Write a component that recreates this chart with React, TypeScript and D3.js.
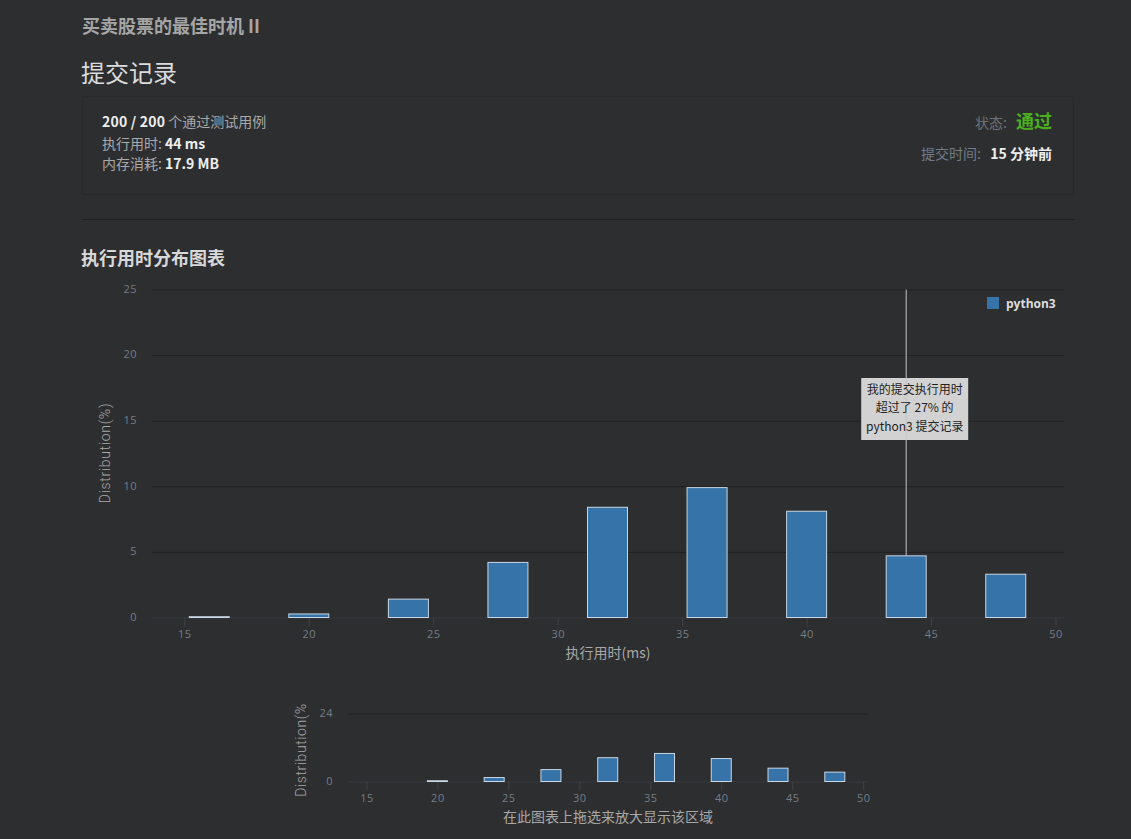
import { useEffect, useRef } from "react";
import * as d3 from "d3";

// values
const bins = [16, 20, 24, 28, 32, 36, 40, 44, 48];
const distribution = [0.06, 0.27, 1.4, 4.2, 8.4, 9.9, 8.1, 4.7, 3.3];
const xTicks = [15, 20, 25, 30, 35, 40, 45, 50];
const mainYTicks = [0, 5, 10, 15, 20, 25];
const miniYTicks = [0, 24];
const xDomain = [13.7, 50.34];
const mySubmission = 44;
const seriesName = "python3";
const tooltipLines = ["我的提交执行用时", "超过了 27% 的", "python3 提交记录"];

const BG = "#2d2e30";
const BAR = "#3573a8";
const BAR_EDGE = "#c9d6e3";
const GRID = "#1f2022";
const AXIS = "#404144";
const TICK_TEXT = "#737d88";
const TITLE_TEXT = "#a8a8a8";
const CJK = "'Noto Sans CJK SC', 'Open Sans', sans-serif";
const LATIN = "'Open Sans', 'Noto Sans CJK SC', sans-serif";

interface IChartBox {
  left: number;
  right: number;
  top: number;
  bottom: number;
  yMax: number;
  yTicks: number[];
  barWidth: number;
  labelGap: number;
}

function drawChart(svg: any, box: IChartBox) {
  const x = d3.scaleLinear().domain(xDomain).range([box.left, box.right]);
  const y = d3.scaleLinear().domain([0, box.yMax]).range([box.bottom, box.top]);

  // grid lines + y labels
  const yAxis = svg
    .append("g")
    .attr("transform", `translate(${box.left},0)`)
    .call(
      d3
        .axisLeft(y)
        .tickValues(box.yTicks)
        .tickSize(-(box.right - box.left))
        .tickPadding(box.labelGap)
    );
  yAxis.select(".domain").remove();
  yAxis.selectAll(".tick line").attr("stroke", GRID);
  yAxis
    .selectAll(".tick text")
    .attr("fill", TICK_TEXT)
    .attr("dy", "0.25em")
    .style("font-family", LATIN)
    .style("font-size", "11px")
    .style("letter-spacing", "0.5px");

  // x axis
  const xAxis = svg
    .append("g")
    .attr("transform", `translate(0,${box.bottom})`)
    .call(d3.axisBottom(x).tickValues(xTicks).tickSize(9).tickPadding(4));
  xAxis.select(".domain").attr("stroke", AXIS).attr("d", `M${box.left},0.5H${box.right}`);
  xAxis.selectAll(".tick line").attr("stroke", AXIS);
  xAxis
    .selectAll(".tick text")
    .attr("fill", TICK_TEXT)
    .style("font-family", LATIN)
    .style("font-size", "11px")
    .style("letter-spacing", "0.5px");

  // bars, anything under half a pixel tall does not show up in the original
  const visible = bins.filter((_, i) => box.bottom - y(distribution[i]) >= 0.5);
  svg
    .append("g")
    .selectAll("rect")
    .data(visible)
    .enter()
    .append("rect")
    .attr("x", (d: number) => x(d) - box.barWidth / 2)
    .attr("width", box.barWidth)
    .attr("y", (d: number) => y(distribution[bins.indexOf(d)]))
    .attr("height", (d: number) => box.bottom - y(distribution[bins.indexOf(d)]))
    .attr("fill", BAR)
    .attr("stroke", BAR_EDGE)
    .attr("stroke-width", 1);

  return { x, y };
}

export default function App() {
  const ref = useRef<SVGSVGElement>(null);

  useEffect(() => {
    if (!ref.current) return;
    document.body.style.margin = "0";
    document.body.style.background = BG;
    const svg = d3.select(ref.current);
    svg.selectAll("g.charts").remove();
    const root = svg.append("g").attr("class", "charts");

    const main = drawChart(root, {
      left: 152,
      right: 1064,
      top: 289.5,
      bottom: 617.5,
      yMax: 25,
      yTicks: mainYTicks,
      barWidth: 40,
      labelGap: 15,
    });
    drawChart(root, {
      left: 348,
      right: 868,
      top: 713.5,
      bottom: 781.5,
      yMax: 24,
      yTicks: miniYTicks,
      barWidth: 20,
      labelGap: 15,
    });

    // tooltip marker for my submission
    const px = main.x(mySubmission);
    const idx = bins.indexOf(mySubmission);
    root
      .append("rect")
      .attr("x", px - 45)
      .attr("y", 378)
      .attr("width", 107)
      .attr("height", 62)
      .attr("fill", "#d2d2d2");
    root
      .append("line")
      .attr("x1", px)
      .attr("x2", px)
      .attr("y1", main.y(25))
      .attr("y2", main.y(distribution[idx]))
      .attr("stroke", "#c4c4c4")
      .attr("stroke-width", 1);
    root
      .append("g")
      .selectAll("text")
      .data(tooltipLines)
      .enter()
      .append("text")
      .attr("x", px + 8.5)
      .attr("y", (_: string, i: number) => 394 + i * 18.3)
      .attr("text-anchor", "middle")
      .attr("fill", "#222")
      .style("font-family", CJK)
      .style("font-size", "12px")
      .text((d: string) => d);
  }, []);

  return (
    <svg
      ref={ref}
      width={1131}
      height={839}
      style={{ display: "block", position: "absolute", left: 0, top: 0 }}
    >
      <rect width={1131} height={839} fill={BG} />

      <g style={{ fontFamily: CJK }}>
        <text x={82} y={33} fontSize={18} fontWeight={700} fill="#a6a6a6">
          买卖股票的最佳时机 II
        </text>
        <text x={81} y={82} fontSize={24} fill="#dcdcdc">
          提交记录
        </text>

        <rect x={82.5} y={96.5} width={991} height={98} rx={2} fill="none" stroke="#29292b" />

        <text x={102} y={127} fontSize={14} fill="#a8a8a8">
          <tspan fontWeight={700} fill="#eeeeee" letterSpacing={0.2}>200 / 200</tspan> 个通过测试用例
        </text>
        <text x={102} y={149} fontSize={14} fill="#a8a8a8">
          执行用时: <tspan fontWeight={700} fill="#eeeeee">44 ms</tspan>
        </text>
        <text x={102} y={169} fontSize={14} fill="#a8a8a8">
          内存消耗: <tspan fontWeight={700} fill="#eeeeee">17.9 MB</tspan>
        </text>

        <text x={975} y={128} fontSize={14} fill="#6f7275">
          状态:
        </text>
        <text x={1052} y={128} textAnchor="end" fontSize={18} fontWeight={700} fill="#4caf1e">
          通过
        </text>
        <text x={921} y={159} fontSize={14} fill="#6f7b88">
          提交时间:
        </text>
        <text x={1052} y={159} textAnchor="end" fontSize={14} fontWeight={700} fill="#eeeeee">
          15 分钟前
        </text>

        <line x1={82} x2={1074} y1={219.5} y2={219.5} stroke="#1f2022" />

        <text x={81} y={265} fontSize={18} fontWeight={700} fill="#d8d8d8">
          执行用时分布图表
        </text>

        <text x={608} y={658} textAnchor="middle" fontSize={14} fill={TITLE_TEXT}>
          执行用时(ms)
        </text>
        <text x={608} y={822} textAnchor="middle" fontSize={14} fill={TITLE_TEXT}>
          在此图表上拖选来放大显示该区域
        </text>
      </g>

      <g style={{ fontFamily: "Roboto, sans-serif" }} fill={TITLE_TEXT} fontSize={14} fontWeight={300}>
        <text transform="translate(110,453) rotate(-90)" textAnchor="middle" letterSpacing={0.7}>
          Distribution(%)
        </text>
        <text transform="translate(306,750) rotate(-90)" textAnchor="middle" letterSpacing={0.6}>
          Distribution(%
        </text>
      </g>

      <rect x={987} y={297} width={12} height={12} fill={BAR} />
      <text
        x={1006}
        y={307.5}
        fontSize={12}
        fontWeight={700}
        fill="#dddddd"
        style={{ fontFamily: LATIN }}
      >
        {seriesName}
      </text>
    </svg>
  );
}
